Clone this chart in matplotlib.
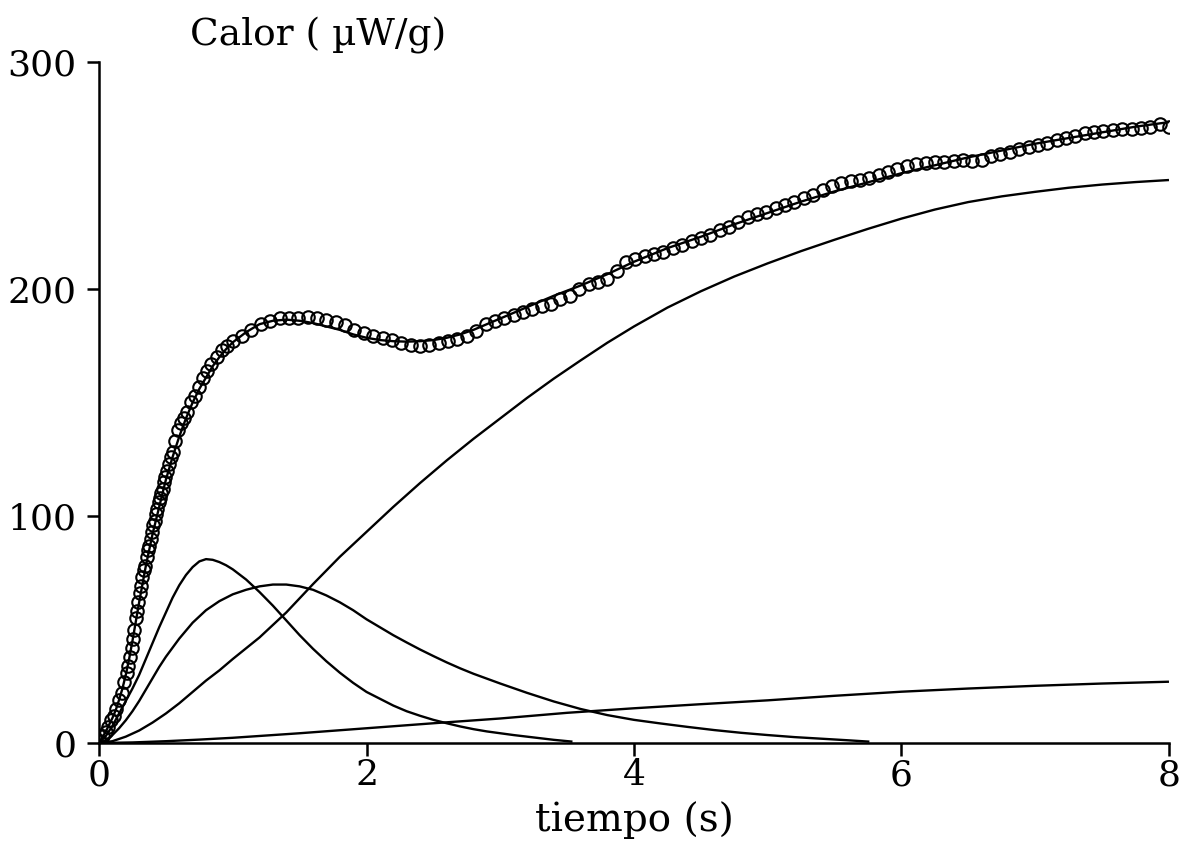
import matplotlib
matplotlib.use("Agg")
import matplotlib.pyplot as plt

# ---------------- data ----------------
# measured points (open circles)
obs_t = [0.01, 0.03, 0.05, 0.07, 0.09, 0.11, 0.13, 0.15, 0.17, 0.19, 0.21, 0.22,
         0.235, 0.245, 0.255, 0.265, 0.275, 0.285, 0.295, 0.305, 0.315, 0.325,
         0.335, 0.345, 0.355, 0.365, 0.375, 0.385, 0.395, 0.405, 0.415, 0.425,
         0.435, 0.445, 0.455, 0.465, 0.475, 0.485, 0.495, 0.505, 0.52, 0.535,
         0.55, 0.57, 0.59, 0.61, 0.635, 0.66, 0.69, 0.72, 0.75, 0.78, 0.81, 0.84,
         0.88, 0.92, 0.96,
         1.00, 1.07, 1.14, 1.21, 1.28, 1.35, 1.42, 1.49, 1.56, 1.63, 1.70, 1.77,
         1.84, 1.91, 1.98, 2.05, 2.12, 2.19, 2.26, 2.33, 2.40, 2.47, 2.54, 2.61,
         2.68, 2.75, 2.82, 2.89, 2.96, 3.03, 3.10, 3.17, 3.24, 3.31, 3.38, 3.45,
         3.52, 3.59, 3.66, 3.73, 3.80, 3.87, 3.94, 4.01, 4.08, 4.15, 4.22, 4.29,
         4.36, 4.43, 4.50, 4.57, 4.64, 4.71, 4.78, 4.85, 4.92, 4.99, 5.06, 5.13,
         5.20, 5.27, 5.34, 5.41, 5.48, 5.55, 5.62, 5.69, 5.76, 5.83, 5.90, 5.97,
         6.04, 6.11, 6.18, 6.25, 6.32, 6.39, 6.46, 6.53, 6.60, 6.67, 6.74, 6.81,
         6.88, 6.95, 7.02, 7.09, 7.16, 7.23, 7.30, 7.37, 7.44, 7.51, 7.58, 7.65,
         7.72, 7.79, 7.86, 7.93, 8.00]
obs_q = [1, 3, 5, 7, 10, 12, 15, 19, 22, 27, 31, 34,
         38, 42, 46, 50, 55, 58, 62, 66, 69, 73,
         76, 78, 82, 85, 87, 90, 93, 96, 98, 101,
         103, 106, 108, 110, 112, 115, 117, 120, 123, 126,
         128, 133, 138, 141, 143, 146, 150, 153, 157, 161, 164, 167,
         170, 173, 175,
         177, 179.5, 182, 184.5, 186, 187, 187, 187, 187.5, 187, 186.5, 185.5,
         184, 182, 180.5, 179.5, 178.5, 177.5, 176, 175.5, 175, 175.5, 176, 177,
         178, 179.5, 181.5, 184.5, 186, 187, 188.5, 190, 191, 192.5, 193.5, 195.5,
         197, 200, 202, 203, 204.5, 208, 212, 213, 214.5, 215.5, 216.5, 218,
         219.5, 221, 222.5, 224, 226, 227.5, 229.5, 231.5, 233, 234, 235.5, 237,
         238.5, 240, 241.5, 243.5, 245.5, 246.5, 247.5, 248, 249, 250, 251.5, 253,
         254, 255, 255.5, 256, 256, 256.5, 257, 256.5, 257, 258.5, 259.5, 260.5,
         261.5, 262.5, 263.5, 264.5, 265.5, 266.5, 267.5, 268.5, 269, 269.5, 270, 270.5,
         270.5, 271, 271.5, 272.5, 271.5]

# fitted total curve
fit_t = [0, 0.025, 0.05, 0.075, 0.1, 0.125, 0.15, 0.175, 0.2, 0.225, 0.25, 0.275,
         0.3, 0.35, 0.4, 0.45, 0.5, 0.55, 0.6, 0.65, 0.7, 0.75, 0.8, 0.85, 0.9,
         0.95, 1.0, 1.1, 1.2, 1.3, 1.4, 1.5, 1.6, 1.7, 1.8, 1.9,
         2.0, 2.1, 2.2, 2.3, 2.4, 2.5, 2.6, 2.7, 2.8, 2.9, 3.0, 3.2, 3.4, 3.6, 3.8,
         4.0, 4.25, 4.5, 4.75, 5.0, 5.25, 5.5, 5.75, 6.0, 6.25, 6.5, 6.75, 7.0,
         7.25, 7.5, 7.75, 8.0]
fit_q = [0, 2.5, 5, 8, 11, 14.5, 19, 24, 30, 37, 45, 53.5,
         62, 78, 92, 104, 116, 126, 135, 143, 150, 156, 161, 166, 170,
         173.5, 176.5, 181, 184.5, 186, 186.5, 186, 185, 183.5, 182, 180,
         178.5, 177.5, 177, 176.8, 177, 177.5, 178.5, 180, 182, 184.5, 187, 192,
         197, 201.5, 206.5,
         212, 218, 223, 228.5, 233.5, 238.5, 243, 247, 251, 254.5, 258, 261, 264,
         266.5, 269, 271.5, 273.5]

# component 1 (fast peak)
c1_t = [0, 0.05, 0.1, 0.15, 0.2, 0.25, 0.3, 0.35, 0.4, 0.45, 0.5, 0.55, 0.6,
        0.65, 0.7, 0.75, 0.8, 0.85, 0.9, 0.95, 1.0, 1.1, 1.2, 1.3, 1.4, 1.5,
        1.6, 1.7, 1.8, 1.9, 2.0, 2.1, 2.2, 2.3, 2.4, 2.5, 2.6, 2.7, 2.8, 2.9,
        3.0, 3.1, 3.2, 3.3, 3.4, 3.54]
c1_q = [0, 3, 7.5, 13, 18.5, 24, 30, 37, 44, 51, 57.5, 64, 69.5,
        74, 77.5, 80, 81, 80.7, 79.7, 78.3, 76.5, 72, 66.5, 60.5, 54, 47.5,
        41.5, 36, 31, 26.5, 22.5, 19.5, 16.5, 14, 12, 10.2, 8.7, 7.3, 6.1, 5.1,
        4.3, 3.5, 2.8, 2.1, 1.4, 0.6]

# component 2 (slower peak)
c2_t = [0, 0.05, 0.1, 0.15, 0.2, 0.25, 0.3, 0.35, 0.4, 0.45, 0.5, 0.6, 0.7,
        0.8, 0.9, 1.0, 1.1, 1.2, 1.3, 1.4, 1.5, 1.6, 1.7, 1.8, 1.9, 2.0, 2.1,
        2.2, 2.3, 2.4, 2.5, 2.6, 2.7, 2.8, 3.0, 3.2, 3.4, 3.6, 3.8, 4.0, 4.2, 4.4,
        4.6, 4.8, 5.0, 5.2, 5.4, 5.6, 5.76]
c2_q = [0, 1.2, 3.5, 6.5, 10, 14, 18.5, 23.5, 28.5, 33.5, 38, 46, 53,
        58.5, 62.5, 65.5, 67.5, 69, 69.8, 69.8, 69, 67.5, 65, 62, 58.5, 54.5, 51,
        47.5, 44.3, 41.2, 38.3, 35.5, 32.9, 30.5, 26.2, 22.1, 18.3, 15, 12.3, 10.2, 8.6, 7.1,
        5.7, 4.5, 3.5, 2.6, 1.9, 1.2, 0.6]

# component 3 (sigmoidal)
c3_t = [0, 0.1, 0.2, 0.3, 0.4, 0.5, 0.6, 0.7, 0.8, 0.9, 1.0, 1.2, 1.4, 1.6,
        1.8, 2.0, 2.2, 2.4, 2.6, 2.8, 3.0, 3.2, 3.4, 3.6, 3.8, 4.0, 4.25, 4.5,
        4.75, 5.0, 5.25, 5.5, 5.75, 6.0, 6.25, 6.5, 6.75, 7.0, 7.25, 7.5, 7.75,
        8.0]
c3_q = [0, 0.8, 2.8, 5.5, 9, 13, 17.5, 22.5, 27.5, 32, 37, 46.5, 57.5, 70,
        82, 93, 104, 114.5, 124.5, 134, 143, 152, 160.5, 168.5, 176.3, 183.5, 191.8, 199,
        205.5, 211.3, 216.7, 221.7, 226.5, 231, 235, 238.3, 240.8, 242.8, 244.6, 246, 247.1,
        248]

# component 4 (slow)
c4_t = [0, 0.25, 0.5, 0.75, 1.0, 1.5, 2.0, 2.5, 3.0, 3.5, 4.0, 4.5, 5.0, 5.5,
        6.0, 6.5, 7.0, 7.5, 8.0]
c4_q = [0, 0.25, 0.8, 1.5, 2.3, 4.3, 6.5, 8.7, 10.8, 13.3, 15.3, 17.1, 18.8, 20.8,
        22.6, 24, 25.2, 26.2, 27]

x_ticks = [0, 2, 4, 6, 8]
y_ticks = [0, 100, 200, 300]

# ---------------- figure ----------------
plt.rcParams['font.family'] = ['DejaVu Serif']
fig = plt.figure(figsize=(11.96, 8.56), dpi=100)
ax = fig.add_axes([0.0828, 0.132, 0.8946, 0.7956])

lw = 1.7
for t, q in [(c1_t, c1_q), (c2_t, c2_q), (c3_t, c3_q), (c4_t, c4_q)]:
    ax.plot(t, q, color='black', lw=lw, solid_capstyle='butt',
            solid_joinstyle='round')
ax.plot(fit_t, fit_q, color='black', lw=lw, solid_joinstyle='round')
ax.plot(obs_t, obs_q, linestyle='none', marker='o', markersize=9,
        markerfacecolor='none', markeredgecolor='black', markeredgewidth=1.5)

ax.set_xlim(0, 8)
ax.set_ylim(0, 300)
ax.set_xticks(x_ticks)
ax.set_yticks(y_ticks)
ax.set_xticklabels([str(v) for v in x_ticks])
ax.set_yticklabels([str(v) for v in y_ticks])
for s in ['top', 'right']:
    ax.spines[s].set_visible(False)
for s in ['left', 'bottom']:
    ax.spines[s].set_linewidth(1.8)
ax.tick_params(axis='both', direction='out', length=9, width=1.8,
               labelsize=26, colors='black')
ax.tick_params(axis='x', pad=2)
ax.tick_params(axis='y', pad=7)

ax.set_xlabel('tiempo (s)', fontsize=28, labelpad=6)
fig.text(190 / 1196, 1 - 35 / 856, 'Calor ( µW/g)', fontsize=27,
         ha='left', va='center')

fig.savefig('out.png', dpi=100, facecolor='white')
